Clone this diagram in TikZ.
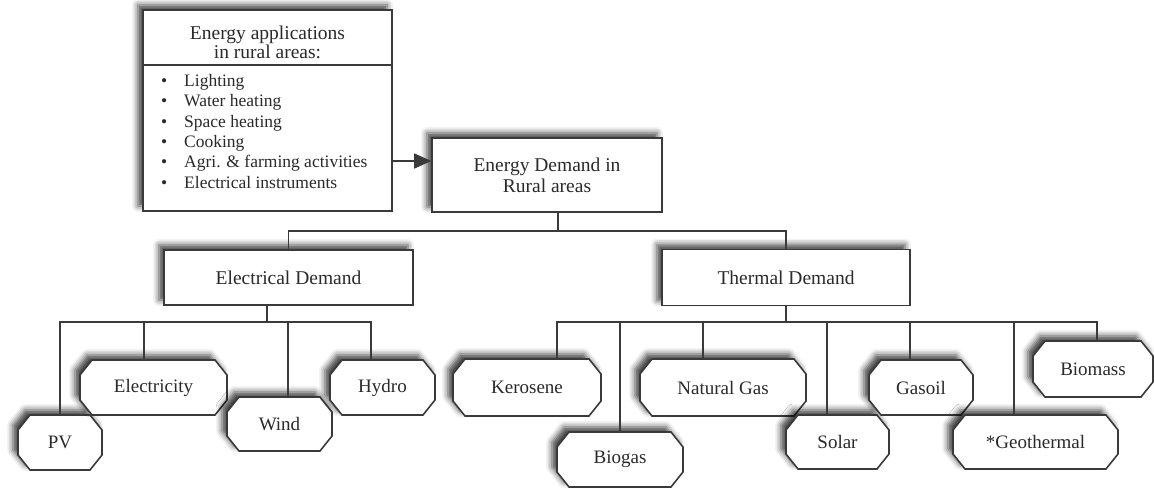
\documentclass[tikz,border=0pt]{standalone}
\usepackage{fontspec}
\setmainfont{Liberation Serif}
\usetikzlibrary{shadows.blur,arrows.meta,calc}
\definecolor{linec}{HTML}{3A3A3A}
\definecolor{textc}{HTML}{2A2A2A}
\tikzset{
  shad/.style={blur shadow={shadow xshift=-5pt,shadow yshift=5pt,shadow blur radius=6pt,shadow opacity=75}},
  boxrect/.style={draw=linec,line width=1.6pt,fill=white,shad,inner sep=0pt,text=textc,align=center,font=\fontsize{19.5}{21}\selectfont},
  octline/.style={draw=linec,line width=1.6pt,fill=white,shad},
  octtext/.style={inner sep=0pt,text=textc,font=\fontsize{19}{21}\selectfont},
  conn/.style={draw=linec,line width=1.6pt},
  arr/.style={conn,-{Triangle[length=17pt,width=15pt]}},
}
\newcommand\octbox[6]{%
  \path[octline] ({#2-#4/2+12},{#3-#5/2}) -- ({#2+#4/2-12},{#3-#5/2}) -- ({#2+#4/2},{#3-#5/2+15}) -- ({#2+#4/2},{#3+#5/2-15}) -- ({#2+#4/2-12},{#3+#5/2}) -- ({#2-#4/2+12},{#3+#5/2}) -- ({#2-#4/2},{#3+#5/2-15}) -- ({#2-#4/2},{#3-#5/2+15}) -- cycle;
  \node[octtext,minimum width=#4pt,minimum height=#5pt] (#1) at (#2,#3) {#6};
}
\begin{document}
\begin{tikzpicture}[x=1pt,y=-1pt]
\useasboundingbox (0,0) rectangle (1154,489);
% applications box
\node[boxrect,minimum width=249pt,minimum height=201pt] (apps) at (267.5,110.5) {};
\node[inner sep=0pt,text=textc,align=center,font=\fontsize{19.5}{19.5}\selectfont] (appstitle) at (267.5,42.5) {Energy applications\\in rural areas:};
\draw[conn] (apps.west |- 0,65) -- (apps.east |- 0,65);
\node[inner sep=0pt,anchor=north west,text=textc,align=left,font=\fontsize{17.5}{20.4}\selectfont] (appslist) at (158,74) {%
\makebox[26pt][l]{\hspace{3pt}\textbullet}Lighting\\
\makebox[26pt][l]{\hspace{3pt}\textbullet}Water heating\\
\makebox[26pt][l]{\hspace{3pt}\textbullet}Space heating\\
\makebox[26pt][l]{\hspace{3pt}\textbullet}Cooking\\
\makebox[26pt][l]{\hspace{3pt}\textbullet}Agri. \& farming activities\\
\makebox[26pt][l]{\hspace{3pt}\textbullet}Electrical instruments};
% demand boxes
\node[boxrect,minimum width=230pt,minimum height=74pt] (demand) at (547,175) {Energy Demand in\\Rural areas};
\node[boxrect,minimum width=249pt,minimum height=55pt] (elec) at (288.5,277.5) {Electrical Demand};
\node[boxrect,minimum width=248pt,minimum height=56pt] (therm) at (786,277.5) {Thermal Demand};
% octagons
\octbox{pv}{60}{442.5}{84}{55}{PV}
\octbox{electricity}{153.5}{387.5}{147}{55}{Electricity}
\octbox{wind}{279.5}{424}{105}{54}{Wind}
\octbox{hydro}{382.5}{387.5}{105}{55}{Hydro}
\octbox{kero}{527}{387.5}{148}{57}{Kerosene}
\octbox{biogas}{620}{459.5}{126}{55}{Biogas}
\octbox{natgas}{723}{387.5}{166}{57}{Natural Gas}
\octbox{solar}{837.5}{442}{103}{54}{Solar}
\octbox{gasoil}{921}{387.5}{104}{55}{Gasoil}
\octbox{geo}{1035.5}{442}{165}{54}{*Geothermal}
\octbox{biomass}{1093}{369}{120}{56}{Biomass}
% connectors
\coordinate (topbus) at (0,231);
\coordinate (ebus) at (0,322);
\coordinate (tbus) at (0,322);
\draw[arr] ([yshift=14pt]demand.west -| apps.east) -- ([yshift=14pt]demand.west);
\draw[conn] ([xshift=11pt]demand.south) -- ([xshift=11pt]demand.south |- topbus);
\draw[conn] (elec.north) -- (elec.north |- topbus) -- (therm.north |- topbus) -- (therm.north);
\draw[conn] ([xshift=-21.5pt]elec.south) -- ([xshift=-21.5pt]elec.south |- ebus);
\draw[conn] (pv.north) -- (pv.north |- ebus) -- ([xshift=-11.5pt]hydro.north |- ebus) -- ([xshift=-11.5pt]hydro.north);
\draw[conn] ([xshift=-9.5pt]electricity.north) -- ([xshift=-9.5pt]electricity.north |- ebus);
\draw[conn] ([xshift=8.5pt]wind.north) -- ([xshift=8.5pt]wind.north |- ebus);
\draw[conn] (therm.south) -- (therm.south |- tbus);
\draw[conn] ([xshift=30pt]kero.north) -- ([xshift=30pt]kero.north |- tbus) -- ([xshift=4pt]biomass.north |- tbus) -- ([xshift=4pt]biomass.north);
\draw[conn] (biogas.north) -- (biogas.north |- tbus);
\draw[conn] ([xshift=-20pt]natgas.north) -- ([xshift=-20pt]natgas.north |- tbus);
\draw[conn] ([xshift=-10.5pt]solar.north) -- ([xshift=-10.5pt]solar.north |- tbus);
\draw[conn] ([xshift=-11pt]gasoil.north) -- ([xshift=-11pt]gasoil.north |- tbus);
\draw[conn] ([xshift=-21.5pt]geo.north) -- ([xshift=-21.5pt]geo.north |- tbus);
\end{tikzpicture}
\end{document}
